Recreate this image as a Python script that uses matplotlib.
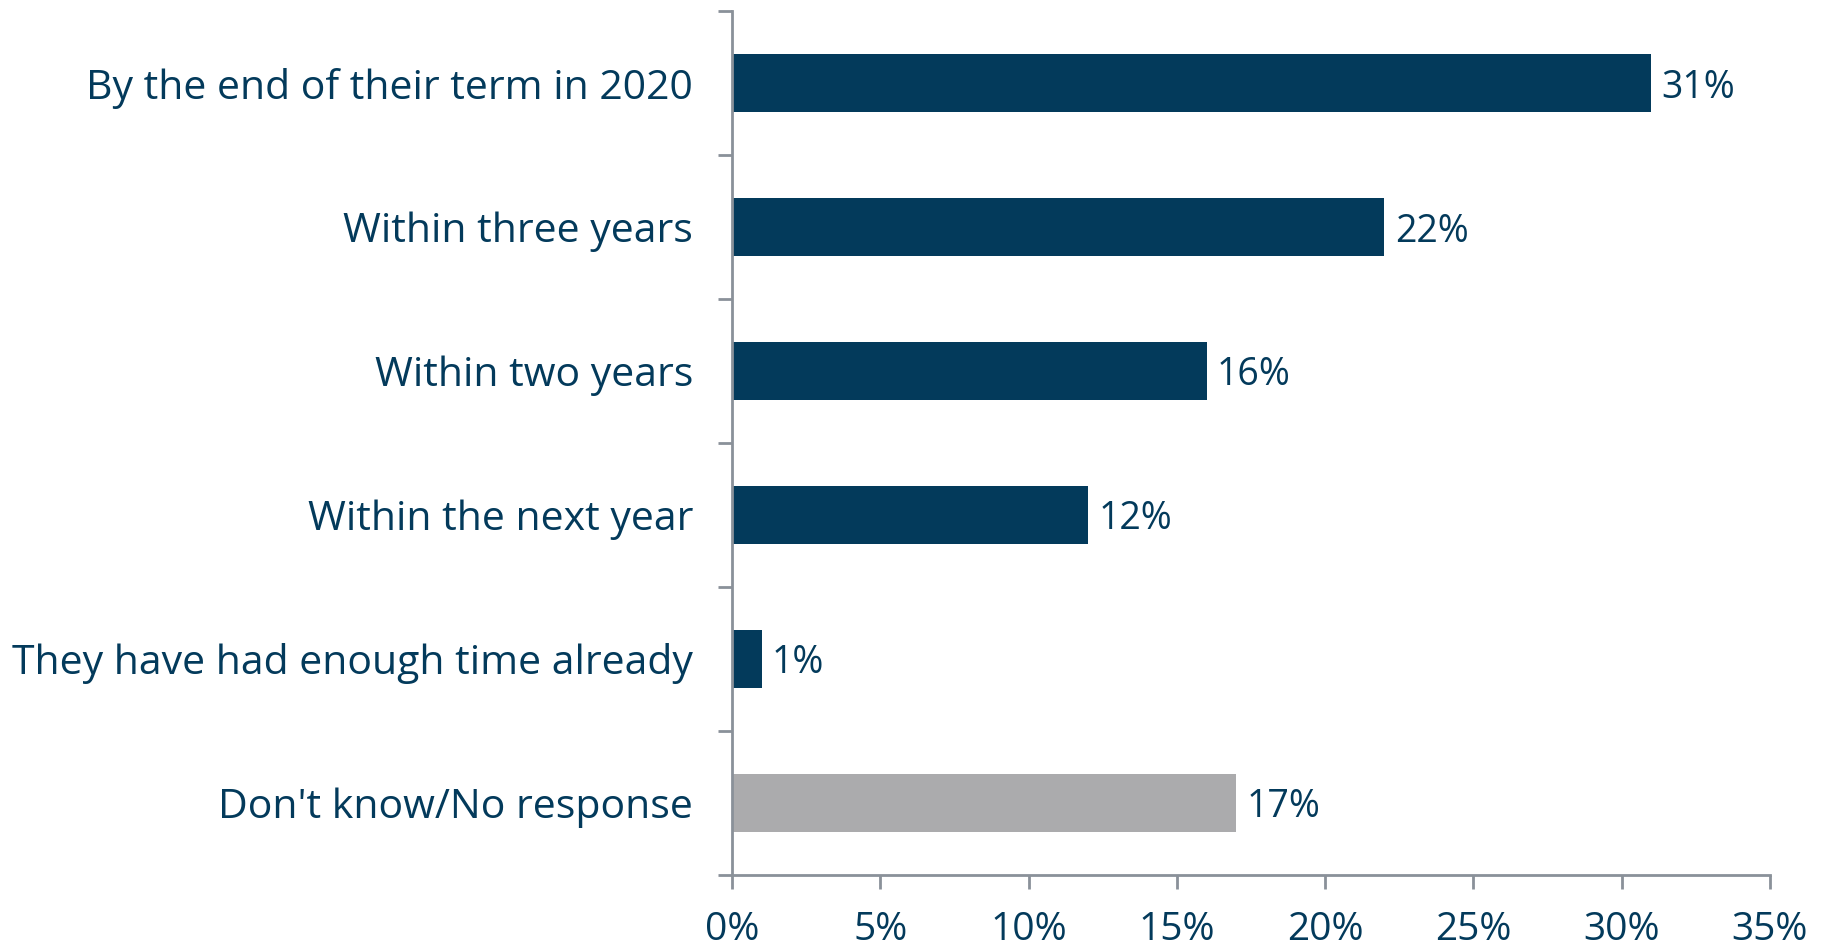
import numpy as np
import matplotlib.pyplot as plt

categories = ["By the end of their term in 2020", "Within three years", "Within two years",
              "Within the next year", "They have had enough time already", "Don't know/No response"]
values = [31, 22, 16, 12, 1, 17]
bar_colors = ["#033A5B"] * 5 + ["#ABABAD"]
xticks = [0, 5, 10, 15, 20, 25, 30, 35]

navy = "#033A5B"
axis_gray = "#8A9199"

plt.rcParams['font.family'] = ['Open Sans', 'DejaVu Sans']

fig = plt.figure(figsize=(18.26, 9.49), dpi=100)
ax = fig.add_axes([0.4009, 0.0780, 0.9693 - 0.4009, 0.9884 - 0.0780])

y = np.arange(len(categories))
ax.barh(y, values, height=0.4, color=bar_colors)
for yi, v in zip(y, values):
    ax.text(v + 0.35, yi, f"{v}%", va='center_baseline', ha='left', fontsize=27, color=navy)

ax.set_xlim(0, 35)
ax.set_ylim(len(categories) - 0.5, -0.5)

ax.set_xticks(xticks)
ax.set_xticklabels([f"{t}%" for t in xticks], fontsize=28, color=navy)
ax.tick_params(axis='x', length=10, width=2, color=axis_gray, pad=16)

# boundary ticks on y, labels as minor ticks
ax.set_yticks(np.arange(-0.5, len(categories)), labels=[])
ax.tick_params(axis='y', which='major', length=10, width=2, color=axis_gray)
ax.set_yticks(y, labels=categories, minor=True)
ax.tick_params(axis='y', which='minor', length=0, pad=28, labelsize=29.5, labelcolor=navy)

for s in ['top', 'right']:
    ax.spines[s].set_visible(False)
for s in ['left', 'bottom']:
    ax.spines[s].set_color(axis_gray)
    ax.spines[s].set_linewidth(2)

fig.savefig("out.png", dpi=100)
